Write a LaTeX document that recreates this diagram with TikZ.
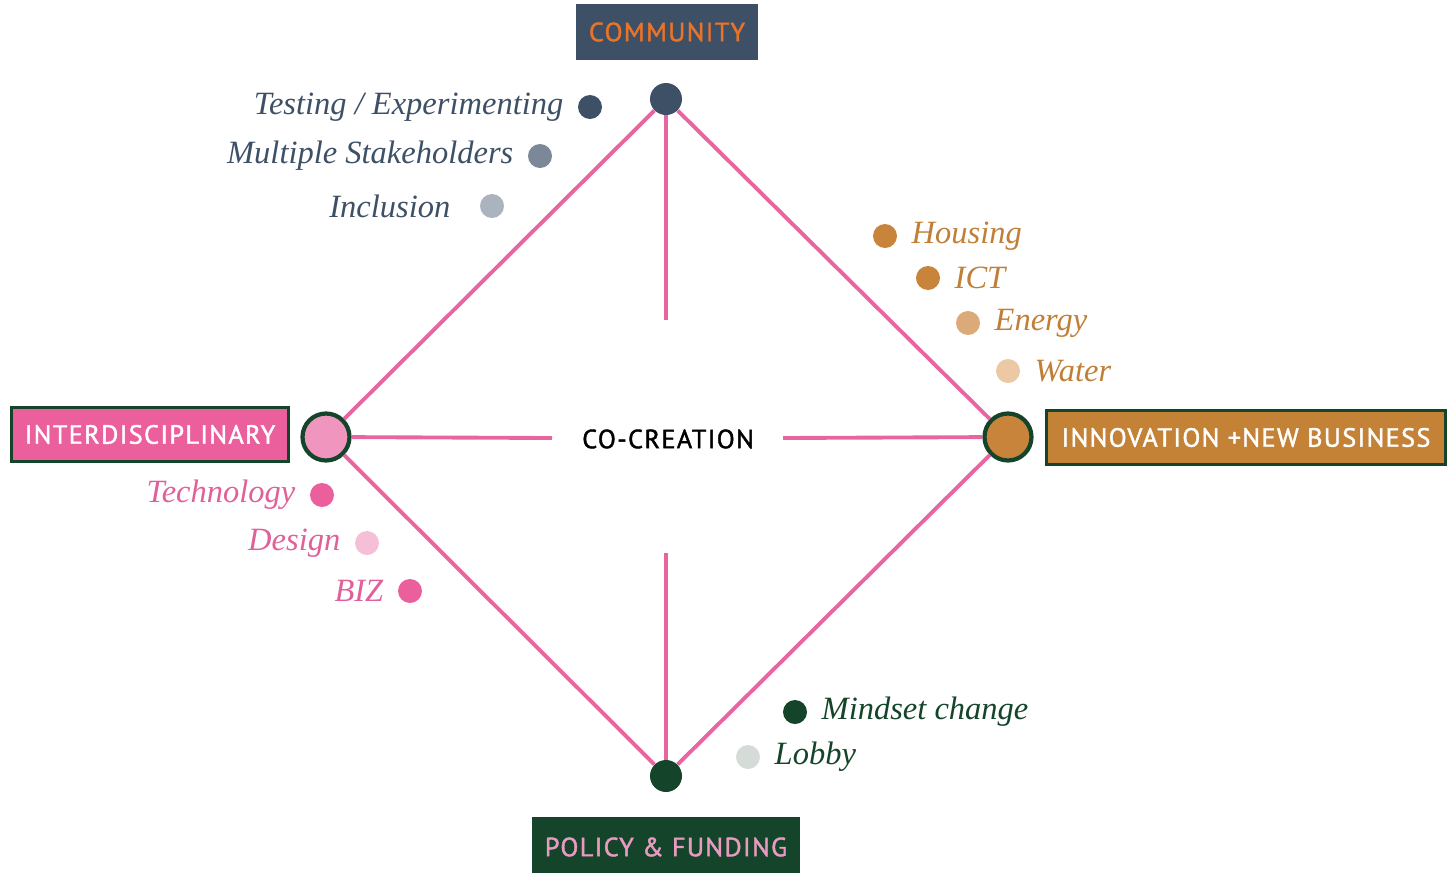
\documentclass[tikz,border=0pt]{standalone}
\usepackage{fontspec}
\setmainfont{Liberation Serif}
\newfontfamily\tagfont[LetterSpace=5,FakeBold=1.5]{PT Sans}
\definecolor{slate}{HTML}{3D5066}
\definecolor{slatemid}{HTML}{7A8898}
\definecolor{slatepale}{HTML}{AAB3BE}
\definecolor{commorange}{HTML}{E8732A}
\definecolor{linkpink}{HTML}{E8659F}
\definecolor{pinkbox}{HTML}{EA5F9C}
\definecolor{pinklight}{HTML}{F095BD}
\definecolor{pinkpale}{HTML}{F5C0D6}
\definecolor{pinktext}{HTML}{E0609A}
\definecolor{darkgreen}{HTML}{14452A}
\definecolor{ochre}{HTML}{C48236}
\definecolor{ochrehub}{HTML}{C8843A}
\definecolor{ochremid}{HTML}{DCAA78}
\definecolor{ochrepale}{HTML}{ECC9A4}
\definecolor{ochretext}{HTML}{C07E36}
\definecolor{greypale}{HTML}{D5DCD8}
\definecolor{policypink}{HTML}{E89AC0}
\tikzset{
	hub/.style={circle, inner sep=0pt, minimum size=0.64cm},
	ring/.style={circle, inner sep=0pt, minimum size=0.94cm, draw=darkgreen, line width=2.4pt},
	link/.style={draw=linkpink, line width=2.2pt},
	tag/.style={inner sep=0pt, font=\tagfont\fontsize{15}{18}\selectfont, text=white},
	dot/.style={circle, inner sep=0pt, minimum size=0.48cm},
	item/.style={font=\itshape\fontsize{18.5}{22}\selectfont, inner sep=0pt, label distance=0.28cm},
}
\begin{document}
\begin{tikzpicture}[x=0.02cm, y=-0.02cm]
	\useasboundingbox (0,0) rectangle (1455,873);

	% the four sides
	\node[tag, fill=slate, text=commorange, minimum width=3.64cm, minimum height=1.12cm] (community) at (667,32) {COMMUNITY};
	\node[tag, fill=pinkbox, draw=darkgreen, line width=2pt, minimum width=5.54cm, minimum height=1.08cm] (interdisc) at (150,434.5) {INTERDISCIPLINARY};
	\node[tag, fill=ochre, draw=darkgreen, line width=2pt, minimum width=7.98cm, minimum height=1.08cm] (innovation) at (1246,437.5) {INNOVATION +NEW BUSINESS};
	\node[tag, fill=darkgreen, text=policypink, minimum width=5.36cm, minimum height=1.2cm] (policy) at (666,847) {POLICY \& FUNDING};

	% hubs
	\node[hub, fill=slate] (top) at (666,99) {};
	\node[ring, fill=pinklight] (left) at (326,437) {};
	\node[ring, fill=ochrehub] (right) at (1008,437) {};
	\node[hub, fill=darkgreen] (bottom) at (666,776) {};

	\node[tag, text=black] (cocreation) at (668,439) {CO-CREATION};
	\coordinate (upend) at (666,320);
	\coordinate (downend) at (666,553);
	\coordinate (leftend) at (552,438);
	\coordinate (rightend) at (783,438);

	\draw[link] (top) -- (left);
	\draw[link] (top) -- (right);
	\draw[link] (left) -- (bottom);
	\draw[link] (right) -- (bottom);
	\draw[link] (top) -- (upend);
	\draw[link] (bottom) -- (downend);
	\draw[link] (left) -- (leftend);
	\draw[link] (right) -- (rightend);

	% community items
	\node[dot, fill=slate, label={[item, text=slate]left:Testing / Experimenting}] (testing) at (590,107) {};
	\node[dot, fill=slatemid, label={[item, text=slate]left:Multiple Stakeholders}] (stakeholders) at (540,156) {};
	\node[dot, fill=slatepale, label={[item, text=slate, label distance=0.58cm]left:Inclusion}] (inclusion) at (492,206) {};

	% innovation items
	\node[dot, fill=ochrehub, label={[item, text=ochretext]right:Housing}] (housing) at (885,236) {};
	\node[dot, fill=ochrehub, label={[item, text=ochretext]right:ICT}] (ict) at (928,278) {};
	\node[dot, fill=ochremid, label={[item, text=ochretext]right:Energy}] (energy) at (968,323) {};
	\node[dot, fill=ochrepale, label={[item, text=ochretext]right:Water}] (water) at (1008,371) {};

	% interdisciplinary items
	\node[dot, fill=pinkbox, label={[item, text=pinktext]left:Technology}] (technology) at (322,495) {};
	\node[dot, fill=pinkpale, label={[item, text=pinktext]left:Design}] (design) at (367,543) {};
	\node[dot, fill=pinkbox, label={[item, text=pinktext]left:BIZ}] (biz) at (410,591) {};

	% policy items
	\node[dot, fill=darkgreen, label={[item, text=darkgreen]right:Mindset change}] (mindset) at (795,712) {};
	\node[dot, fill=greypale, label={[item, text=darkgreen]right:Lobby}] (lobby) at (748,757) {};

\end{tikzpicture}
\end{document}
